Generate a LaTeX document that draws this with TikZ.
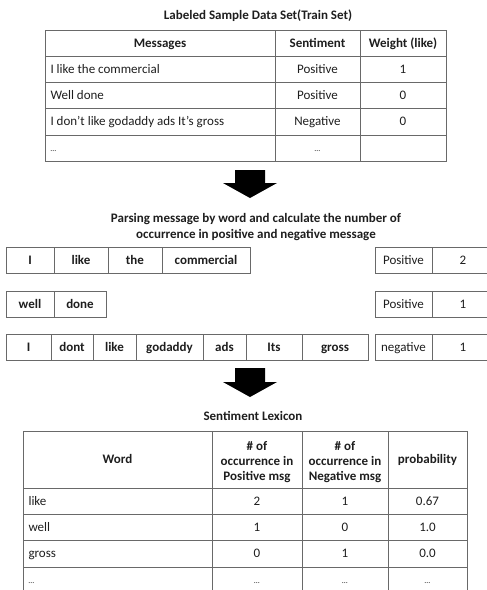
\documentclass[tikz,border=0pt]{standalone}
\usepackage{fontspec}
\setmainfont{Carlito}
\usepackage{tikz}
\usetikzlibrary{positioning}
\definecolor{rulegray}{RGB}{105,105,105}
\definecolor{inkgray}{RGB}{30,30,30}

\begin{document}
\begin{tikzpicture}[x=1pt, y=-1pt,
  every node/.style={text=inkgray, font=\fontsize{13}{15}\selectfont, text height=1.45ex, text depth=.3ex},
  hd/.style={font=\fontsize{13}{16}\selectfont\bfseries},
  wcell/.style={draw=rulegray, line width=0.9pt, minimum height=26pt, inner sep=0pt, outer sep=0pt,
    text height=1.95ex, text depth=.25ex, font=\fontsize{13}{15}\selectfont\bfseries},
  ccell/.style={draw=rulegray, line width=0.9pt, minimum height=26pt, inner sep=0pt, outer sep=0pt,
    text height=1.95ex, text depth=.25ex},
  grid/.style={draw=rulegray, line width=0.9pt},
  dots/.style={font=\fontsize{8}{9}\selectfont},
  bigarrow/.style={fill=black}]
  \clip (0,0) rectangle (487,590);

  % Training set table
  \node[hd] (traintitle) at (258,17) {Labeled Sample Data Set(Train Set)};
  \draw[grid] (45,30) rectangle (446,161);
  \foreach \y in {56,82,108,135} \draw[grid] (45,\y) -- (446,\y);
  \draw[grid] (275,30) -- (275,161) (360,30) -- (360,161);
  \node[hd] (hmsg) at (160,44.5) {Messages};
  \node[hd] (hsent) at (317.5,44.5) {Sentiment};
  \node[hd] (hweight) at (403,44.5) {Weight (like)};
  \node[anchor=west] (m1) at (47,70.5) {I like the commercial};
  \node (s1) at (317.5,70.5) {Positive};
  \node (v1) at (403,70.5) {1};
  \node[anchor=west] (m2) at (47,96.5) {Well done};
  \node (s2) at (317.5,96.5) {Positive};
  \node (v2) at (403,96.5) {0};
  \node[anchor=west] (m3) at (47,123) {I don’t like godaddy ads It’s gross};
  \node (s3) at (317.5,123) {Negative};
  \node (v3) at (403,123) {0};
  \node[anchor=west, dots] (m4) at (47,149) {…};
  \node[dots] (s4) at (317.5,149) {…};

  % arrow down
  \fill[bigarrow] (235,170) -- (265,170) -- (265,183) -- (277,183) -- (250,198)
    -- (223,183) -- (235,183) -- cycle;

  % Parsing step
  \node[hd, align=center, text height=, text depth=] (parse) at (256,227) {Parsing message by word and calculate the number of\\occurrence in positive and negative message};

  \node[wcell, minimum width=48pt] (a1) at (30,260) {I};
  \node[wcell, minimum width=54pt, right=0pt of a1] (a2) {like};
  \node[wcell, minimum width=54pt, right=0pt of a2] (a3) {the};
  \node[wcell, minimum width=88pt, right=0pt of a3] (a4) {commercial};
  \node[ccell, minimum width=57pt] (pa) at (403.5,260) {Positive};
  \node[ccell, minimum width=62pt, right=0pt of pa] (ca) {2};

  \node[wcell, minimum width=48pt] (b1) at (30,304) {well};
  \node[wcell, minimum width=52pt, right=0pt of b1] (b2) {done};
  \node[ccell, minimum width=57pt] (pb) at (403.5,304) {Positive};
  \node[ccell, minimum width=62pt, right=0pt of pb] (cb) {1};

  \node[wcell, minimum width=45pt] (c1) at (28.5,347) {I};
  \node[wcell, minimum width=42pt, right=0pt of c1] (c2) {dont};
  \node[wcell, minimum width=43pt, right=0pt of c2] (c3) {like};
  \node[wcell, minimum width=67pt, right=0pt of c3] (c4) {godaddy};
  \node[wcell, minimum width=43pt, right=0pt of c4] (c5) {ads};
  \node[wcell, minimum width=56pt, right=0pt of c5] (c6) {Its};
  \node[wcell, minimum width=66pt, right=0pt of c6] (c7) {gross};
  \node[ccell, minimum width=57pt] (pc) at (403.5,347) {negative};
  \node[ccell, minimum width=62pt, right=0pt of pc] (cc) {1};

  % arrow down
  \fill[bigarrow] (235,368) -- (265,368) -- (265,382) -- (277,382) -- (250,397)
    -- (223,382) -- (235,382) -- cycle;

  % Lexicon table
  \node[hd] (lextitle) at (253,418) {Sentiment Lexicon};
  \draw[grid] (23,431) rectangle (467,600);
  \foreach \y in {488,514,540,567} \draw[grid] (23,\y) -- (467,\y);
  \draw[grid] (212,431) -- (212,600) (302,431) -- (302,600) (388,431) -- (388,600);
  \node[hd] (hword) at (117.5,461) {Word};
  \node[hd, align=center, text height=, text depth=, font=\fontsize{13}{15}\selectfont\bfseries] (hpos) at (257,462) {\# of\\occurrence in\\Positive msg};
  \node[hd, align=center, text height=, text depth=, font=\fontsize{13}{15}\selectfont\bfseries] (hneg) at (345,462) {\# of\\occurrence in\\Negative msg};
  \node[hd] (hprob) at (427.5,461) {probability};
  \node[anchor=west] (w1) at (25,502.5) {like};
  \node (p1) at (257,502.5) {2};
  \node (n1) at (345,502.5) {1};
  \node (r1) at (427.5,502.5) {0.67};
  \node[anchor=west] (w2) at (25,528.5) {well};
  \node (p2) at (257,528.5) {1};
  \node (n2) at (345,528.5) {0};
  \node (r2) at (427.5,528.5) {1.0};
  \node[anchor=west] (w3) at (25,555) {gross};
  \node (p3) at (257,555) {0};
  \node (n3) at (345,555) {1};
  \node (r3) at (427.5,555) {0.0};
  \node[anchor=west, dots] (w4) at (25,581) {…};
  \node[dots] (p4) at (257,581) {…};
  \node[dots] (n4) at (345,581) {…};
  \node[dots] (r4) at (427.5,581) {…};
\end{tikzpicture}
\end{document}
